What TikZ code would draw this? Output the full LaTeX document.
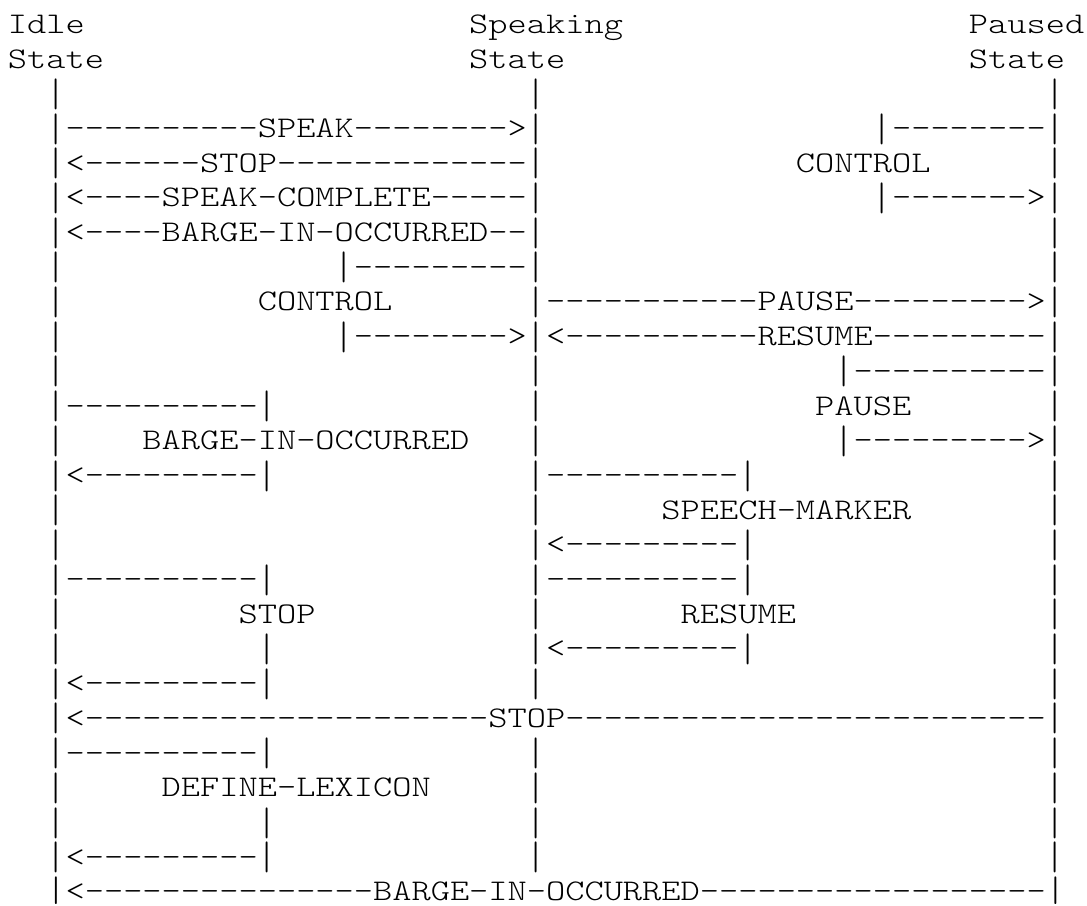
\documentclass[tikz,border=0pt]{standalone}
\usepackage{fontspec}
\usepackage{graphicx}
\setmonofont{lmmonolt10-regular.otf}[FakeStretch=1.2203]
\ExplSyntaxOn
\cs_new:Npn \rd #1 { \prg_replicate:nn {#1} {-} }
\ExplSyntaxOff
% tall vertical bar character, as in the reference font
\newcommand\pbar{\sbox0{|}\raisebox{-2.1pt}{\resizebox*{\wd0}{9.3pt}{\raisebox{\dp0}{|}}}}
% same bar for the bottom row, kept inside the picture
\newcommand\pbarlow{\sbox0{|}\raisebox{-1.1pt}{\resizebox*{\wd0}{8.3pt}{\raisebox{\dp0}{|}}}}
\newcommand\seg[4]{\node[seg] (#1) at ({#3+0.4136},{#2-0.0403}) {#4};}
\tikzset{seg/.style={anchor=base west, inner sep=0pt, outer sep=0pt, text=black,
  font=\ttfamily\fontsize{9pt}{10pt}\selectfont}}
\begin{document}
\begin{tikzpicture}[x=5.766pt, y=-10.41pt]
\useasboundingbox[fill=white] (0,0) rectangle (56.556,26.081);
\seg{n1a}{1}{0}{Idle}
\seg{n1b}{1}{24}{Speaking}
\seg{n1c}{1}{50}{Paused}
\seg{n2a}{2}{0}{State}
\seg{n2b}{2}{24}{State}
\seg{n2c}{2}{50}{State}
\seg{n3a}{3}{2}{\pbar}
\seg{n3b}{3}{27}{\pbar}
\seg{n3c}{3}{54}{\pbar}
\seg{n4a}{4}{2}{\pbar\rd{10}SPEAK\rd{8}>\pbar}
\seg{n4b}{4}{45}{\pbar\rd{8}\pbar}
\seg{n5a}{5}{2}{\pbar<\rd{6}STOP\rd{13}\pbar}
\seg{n5b}{5}{41}{CONTROL}
\seg{n5c}{5}{54}{\pbar}
\seg{n6a}{6}{2}{\pbar<\rd{4}SPEAK-COMPLETE\rd{5}\pbar}
\seg{n6b}{6}{45}{\pbar\rd{7}>\pbar}
\seg{n7a}{7}{2}{\pbar<\rd{4}BARGE-IN-OCCURRED\rd{2}\pbar}
\seg{n7b}{7}{54}{\pbar}
\seg{n8a}{8}{2}{\pbar}
\seg{n8b}{8}{17}{\pbar\rd{9}\pbar}
\seg{n8c}{8}{54}{\pbar}
\seg{n9a}{9}{2}{\pbar}
\seg{n9b}{9}{13}{CONTROL}
\seg{n9c}{9}{27}{\pbar\rd{11}PAUSE\rd{9}>\pbar}
\seg{n10a}{10}{2}{\pbar}
\seg{n10b}{10}{17}{\pbar\rd{8}>\pbar}
\seg{n10c}{10}{28}{<\rd{10}RESUME\rd{9}\pbar}
\seg{n11a}{11}{2}{\pbar}
\seg{n11b}{11}{27}{\pbar}
\seg{n11c}{11}{43}{\pbar\rd{10}\pbar}
\seg{n12a}{12}{2}{\pbar\rd{10}\pbar}
\seg{n12b}{12}{27}{\pbar}
\seg{n12c}{12}{42}{PAUSE}
\seg{n12d}{12}{54}{\pbar}
\seg{n13a}{13}{2}{\pbar}
\seg{n13b}{13}{7}{BARGE-IN-OCCURRED}
\seg{n13c}{13}{27}{\pbar}
\seg{n13d}{13}{43}{\pbar\rd{9}>\pbar}
\seg{n14a}{14}{2}{\pbar<\rd{9}\pbar}
\seg{n14b}{14}{27}{\pbar\rd{10}\pbar}
\seg{n14c}{14}{54}{\pbar}
\seg{n15a}{15}{2}{\pbar}
\seg{n15b}{15}{27}{\pbar}
\seg{n15c}{15}{34}{SPEECH-MARKER}
\seg{n15d}{15}{54}{\pbar}
\seg{n16a}{16}{2}{\pbar}
\seg{n16b}{16}{27}{\pbar<\rd{9}\pbar}
\seg{n16c}{16}{54}{\pbar}
\seg{n17a}{17}{2}{\pbar\rd{10}\pbar}
\seg{n17b}{17}{27}{\pbar\rd{10}\pbar}
\seg{n17c}{17}{54}{\pbar}
\seg{n18a}{18}{2}{\pbar}
\seg{n18b}{18}{12}{STOP}
\seg{n18c}{18}{27}{\pbar}
\seg{n18d}{18}{35}{RESUME}
\seg{n18e}{18}{54}{\pbar}
\seg{n19a}{19}{2}{\pbar}
\seg{n19b}{19}{13}{\pbar}
\seg{n19c}{19}{27}{\pbar<\rd{9}\pbar}
\seg{n19d}{19}{54}{\pbar}
\seg{n20a}{20}{2}{\pbar<\rd{9}\pbar}
\seg{n20b}{20}{27}{\pbar}
\seg{n20c}{20}{54}{\pbar}
\seg{n21a}{21}{2}{\pbar<\rd{21}STOP\rd{25}\pbar}
\seg{n22a}{22}{2}{\pbar\rd{10}\pbar}
\seg{n22b}{22}{27}{\pbar}
\seg{n22c}{22}{54}{\pbar}
\seg{n23a}{23}{2}{\pbar}
\seg{n23b}{23}{8}{DEFINE-LEXICON}
\seg{n23c}{23}{27}{\pbar}
\seg{n23d}{23}{54}{\pbar}
\seg{n24a}{24}{2}{\pbar}
\seg{n24b}{24}{13}{\pbar}
\seg{n24c}{24}{27}{\pbar}
\seg{n24d}{24}{54}{\pbar}
\seg{n25a}{25}{2}{\pbar<\rd{9}\pbar}
\seg{n25b}{25}{27}{\pbar}
\seg{n25c}{25}{54}{\pbar}
\seg{n26a}{26}{2}{\pbarlow<\rd{15}BARGE-IN-OCCURRED\rd{18}\pbarlow}
\end{tikzpicture}
\end{document}
